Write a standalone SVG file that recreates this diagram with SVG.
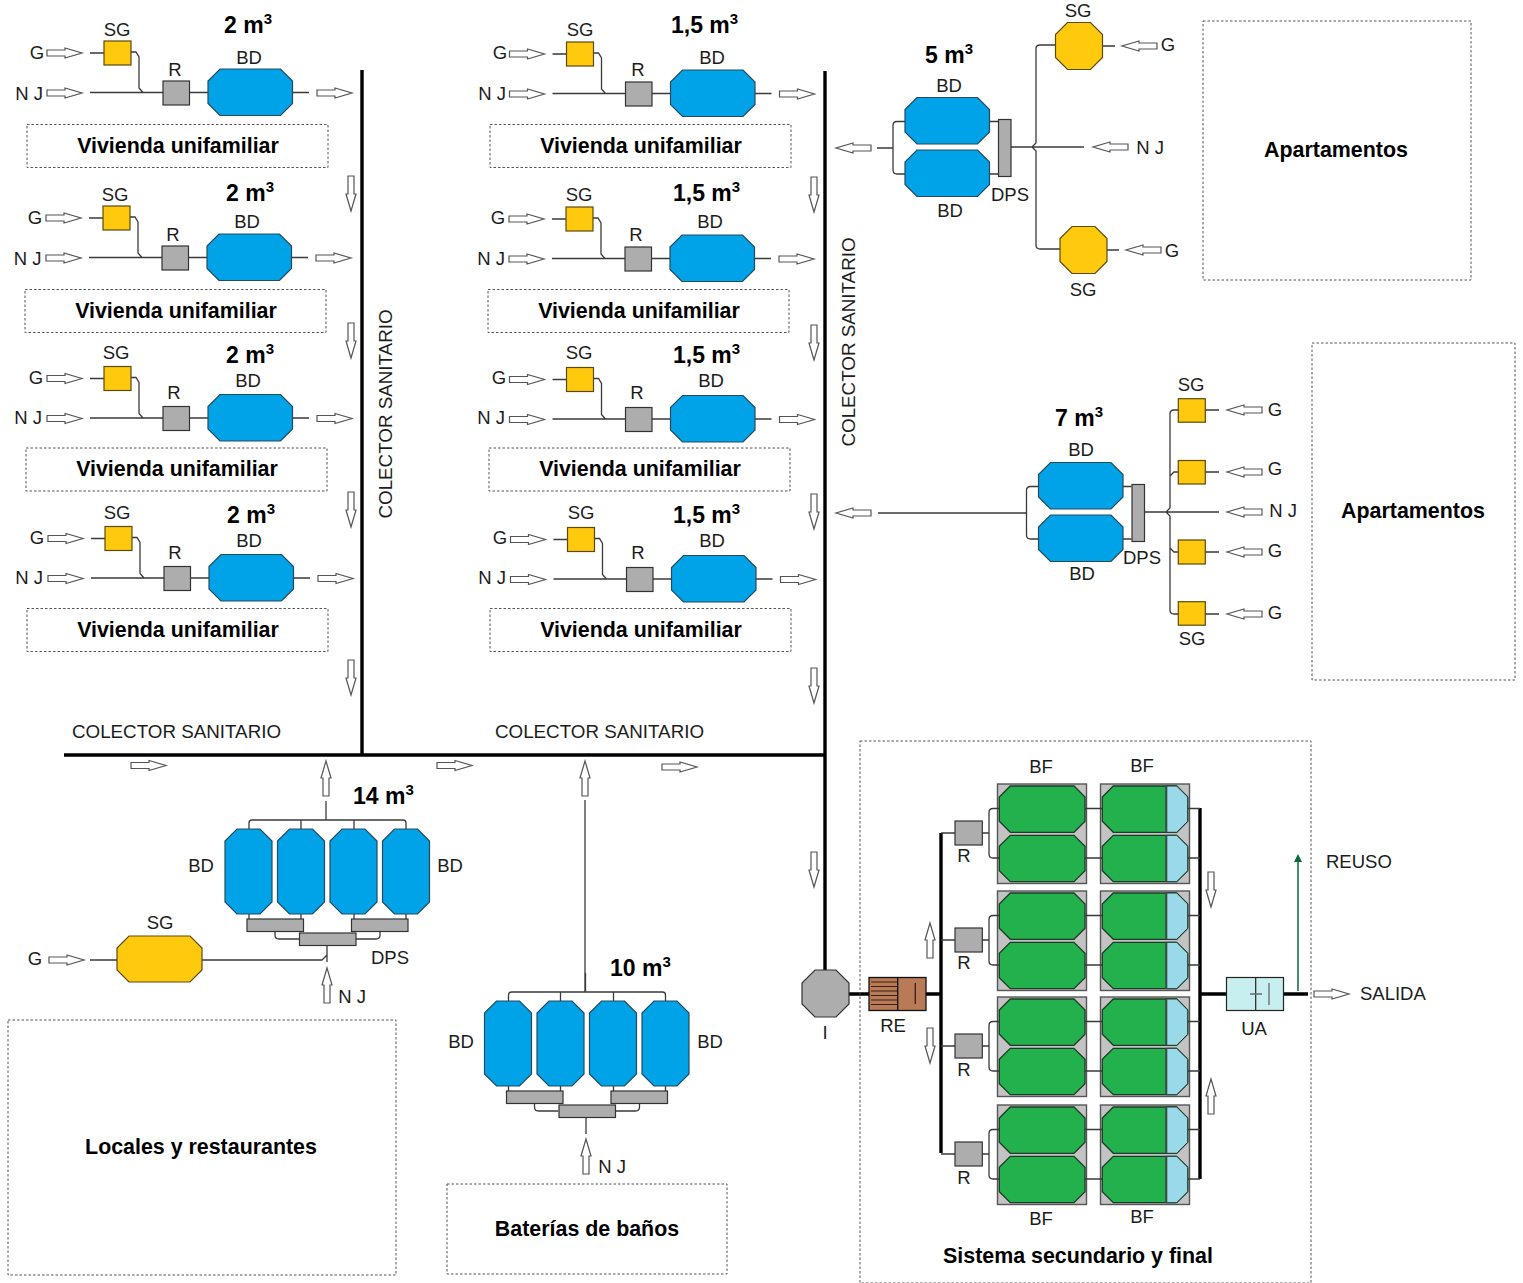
<svg xmlns="http://www.w3.org/2000/svg" width="1523" height="1283" viewBox="0 0 1523 1283">
<style>
text{font-family:"Liberation Sans",Arial,sans-serif;font-size:18.500px;fill:#1c1c1c;text-anchor:middle}
.b{font-weight:bold;font-size:21.400px;fill:#000}
.t{font-weight:bold;font-size:23px;fill:#000;text-anchor:start}
.s{text-anchor:start}
.cs{font-size:18.800px}
.sup{font-size:15px}
.ar{fill:#fff;stroke:#555;stroke-width:1.200}
.l{fill:none;stroke:#3a3a3a;stroke-width:1.300}
.bus{fill:none;stroke:#000;stroke-width:3.400}
.box{fill:none;stroke:#555;stroke-width:1;stroke-dasharray:2.500 2}
.sg{fill:#ffc90e;stroke:#5a4a10;stroke-width:1.200}
.gr{fill:#adadad;stroke:#333;stroke-width:1.200}
.bd{fill:#00a2e8;stroke:#274a5c;stroke-width:1.200}
.pan{fill:#c3c3c3;stroke:#555;stroke-width:1.400}
.bf{fill:#22b14c;stroke:#1f3a28;stroke-width:1.300}
.bl{fill:#99d9ea;stroke:#1f3a28;stroke-width:1}
.re{fill:#b97a57;stroke:#111;stroke-width:1.300}
.ua{fill:#c8eff0;stroke:#222;stroke-width:1.200}
</style>
<defs>
<polygon id="ar" class="ar" points="0,-3 18,-3 18,-5 35,0 18,5 18,3 0,3"/>
<polygon id="bdh" class="bd" points="12,0 72.500,0 84.500,12 84.500,34.500 72.500,46.500 12,46.500 0,34.500 0,12"/>
<polygon id="bdv" class="bd" points="12,0 35,0 47,12 47,73 35,85 12,85 0,73 0,12"/>
<polygon id="oct" class="sg" points="12,0 35,0 47,12 47,35 35,47 12,47 0,35 0,12"/>
<g id="unit">
<path class="l" d="M90,53H104M131,52H136L139,57V88L143,92.500M90,92.500H163M189,92.500H208M292,92.500H309"/>
<use href="#ar" x="47" y="53"/>
<use href="#ar" x="47" y="93"/>
<use href="#ar" x="317" y="93"/>
<rect class="sg" x="104" y="41" width="27" height="24"/>
<rect class="gr" x="163" y="81" width="26.500" height="24"/>
<use href="#bdh" x="208" y="69"/>
</g>
<g id="tank4">
<path class="l" d="M249,829V823Q249,820 252,820H403Q406,820 406,823V829M301,820V829M354,820V829M326,801V820M249,913V919M301,913V919M354,913V919M406,913V919M275,932V935Q275,939 279,939H299M380,932V935Q380,939 376,939H356"/>
<use href="#bdv" x="225" y="829"/>
<use href="#bdv" x="277.500" y="829"/>
<use href="#bdv" x="330" y="829"/>
<use href="#bdv" x="382.500" y="829"/>
<rect class="gr" x="247" y="919" width="56.500" height="12.500"/>
<rect class="gr" x="351.500" y="919" width="56.500" height="12.500"/>
<rect class="gr" x="299.500" y="933" width="56.500" height="12.500"/>
</g>
<g id="twin">
<path class="l" d="M905,121.500H897Q893,121.500 893,125.500V170Q893,174 897,174H905M989,121.500H998M989,174H998"/>
<use href="#bdh" x="905" y="97.500"/>
<use href="#bdh" x="905" y="150"/>
<rect class="gr" x="998.500" y="119.500" width="12.500" height="57"/>
</g>
<g id="bfrow">
<rect class="pan" x="997.500" y="784" width="89" height="99.500"/>
<rect class="pan" x="1100.500" y="784" width="89" height="99.500"/>
<polygon class="bf" points="1010.300,786 1074,786 1085,797 1085,821.300 1074,832.300 1010.300,832.300 999.300,821.300 999.300,797"/>
<polygon class="bf" points="1010.300,835.300 1074,835.300 1085,846.300 1085,870.700 1074,881.700 1010.300,881.700 999.300,870.700 999.300,846.300"/>
<polygon class="bf" points="1113.300,786 1176.700,786 1187.700,797 1187.700,821.300 1176.700,832.300 1113.300,832.300 1102.300,821.300 1102.300,797"/>
<polygon class="bf" points="1113.300,835.300 1176.700,835.300 1187.700,846.300 1187.700,870.700 1176.700,881.700 1113.300,881.700 1102.300,870.700 1102.300,846.300"/>
<polygon class="bl" points="1166.300,786 1176.700,786 1187.700,797 1187.700,821.300 1176.700,832.300 1166.300,832.300"/>
<polygon class="bl" points="1166.300,835.300 1176.700,835.300 1187.700,846.300 1187.700,870.700 1176.700,881.700 1166.300,881.700"/>
<path d="M1166.300,786V832.300M1166.300,835.300V881.700" fill="none" stroke="#3a4a44" stroke-width="2"/>
<path class="l" d="M941,833H955M982,833H989M999,808.500H993Q989,808.500 989,812.500V854Q989,858 993,858H999M1085,808.500H1102M1085,858H1102M1188,808.500H1200M1188,858H1200"/>
<rect class="gr" x="955" y="821" width="27.300" height="24"/>
</g>
</defs>

<g id="connectors">
<path class="bus" d="M362,70V755M825,71V972M64,755H825"/>
<path class="bus" d="M849,994H869M926,994H941M941,833V1153M1200,808V1179M1200,994H1226M1283,994H1308"/>
<use href="#ar" transform="translate(351,176) rotate(90)"/>
<use href="#ar" transform="translate(351,323) rotate(90)"/>
<use href="#ar" transform="translate(351,492) rotate(90)"/>
<use href="#ar" transform="translate(351,660) rotate(90)"/>
<use href="#ar" transform="translate(814,177) rotate(90)"/>
<use href="#ar" transform="translate(814,325) rotate(90)"/>
<use href="#ar" transform="translate(814,494) rotate(90)"/>
<use href="#ar" transform="translate(814,668) rotate(90)"/>
<use href="#ar" transform="translate(814,852) rotate(90)"/>
<use href="#ar" x="131" y="765.500"/>
<use href="#ar" x="437" y="765.500"/>
<use href="#ar" x="662" y="767"/>
<use href="#ar" transform="translate(326,796) rotate(-90)"/>
<use href="#ar" transform="translate(585,796) rotate(-90)"/>
<use href="#ar" transform="translate(930,958) rotate(-90)"/>
<use href="#ar" transform="translate(930,1028) rotate(90)"/>
<use href="#ar" transform="translate(1211,872) rotate(90)"/>
<use href="#ar" transform="translate(1211,1114) rotate(-90)"/>
<use href="#ar" x="1314" y="994"/>
<path d="M1298,991V860" fill="none" stroke="#0b6b3a" stroke-width="1.500"/>
<polygon points="1298,854 1302,862 1294,862" fill="#0b6b3a"/>
<path class="l" d="M585,800V992M586,1117V1134"/>
<path class="l" d="M90,960H117M202,960H322L327,955M327,945V962"/>
<use href="#ar" x="49" y="960"/>
<use href="#ar" transform="translate(327,1003) rotate(-90)"/>
<use href="#ar" transform="translate(586,1174) rotate(-90)"/>
<path class="l" d="M877,148H893M1011,147H1084M1055,45H1040Q1036,45 1036,49V143L1032,147L1036,151V245Q1036,249 1040,249H1060M1103,46H1115M1107,250H1119"/>
<use href="#ar" transform="translate(871,148) rotate(180)"/>
<use href="#ar" transform="translate(1157,46) rotate(180)"/>
<use href="#ar" transform="translate(1161,250) rotate(180)"/>
<use href="#ar" transform="translate(1128,147) rotate(180)"/>
<path class="l" d="M878,513H1027M1144,512H1219M1178,410H1174Q1170,410 1170,414V508L1166,512L1170,516V610Q1170,614 1174,614H1178M1170,476L1174,472H1178M1170,548L1174,552H1178M1205,410H1219M1205,472H1219M1205,552H1219M1205,614H1219"/>
<use href="#ar" transform="translate(871,513) rotate(180)"/>
<use href="#ar" transform="translate(1262,410) rotate(180)"/>
<use href="#ar" transform="translate(1262,472) rotate(180)"/>
<use href="#ar" transform="translate(1262,512) rotate(180)"/>
<use href="#ar" transform="translate(1262,552) rotate(180)"/>
<use href="#ar" transform="translate(1262,614) rotate(180)"/>
</g>

<g id="colector-labels">
<text class="cs" transform="translate(392,414) rotate(-90)">COLECTOR SANITARIO</text>
<text class="cs" transform="translate(855,342) rotate(-90)">COLECTOR SANITARIO</text>
<text class="cs" x="176.500" y="738">COLECTOR SANITARIO</text>
<text class="cs" x="599.500" y="738">COLECTOR SANITARIO</text>
</g>

<g id="vivienda-1-1">
<use href="#unit"/>
<rect class="box" x="27" y="124.500" width="301" height="43"/>
<text x="37" y="59">G</text><text x="29" y="100">N J</text><text x="117" y="36">SG</text><text x="175" y="76">R</text><text x="249" y="64">BD</text>
<text class="t" x="224" y="33">2 m<tspan class="sup" dy="-9">3</tspan></text>
<text class="b" x="178" y="153">Vivienda unifamiliar</text>
</g>
<g id="vivienda-1-2">
<use href="#unit" transform="translate(-1,165)"/>
<rect class="box" x="25" y="289.500" width="301" height="43"/>
<text x="35" y="224">G</text><text x="27.500" y="265">N J</text><text x="115" y="201">SG</text><text x="173" y="241">R</text><text x="247" y="228">BD</text>
<text class="t" x="226" y="201">2 m<tspan class="sup" dy="-9">3</tspan></text>
<text class="b" x="176" y="318">Vivienda unifamiliar</text>
</g>
<g id="vivienda-1-3">
<use href="#unit" transform="translate(0,325.500)"/>
<rect class="box" x="26" y="448" width="301" height="43"/>
<text x="36" y="384">G</text><text x="28" y="424">N J</text><text x="116" y="359">SG</text><text x="174" y="399">R</text><text x="248" y="387">BD</text>
<text class="t" x="226" y="363">2 m<tspan class="sup" dy="-9">3</tspan></text>
<text class="b" x="177" y="476">Vivienda unifamiliar</text>
</g>
<g id="vivienda-1-4">
<use href="#unit" transform="translate(1,485.500)"/>
<rect class="box" x="27" y="608.500" width="301" height="43"/>
<text x="37" y="544">G</text><text x="29" y="584">N J</text><text x="117" y="519">SG</text><text x="175" y="559">R</text><text x="249" y="546.500">BD</text>
<text class="t" x="227" y="523">2 m<tspan class="sup" dy="-9">3</tspan></text>
<text class="b" x="178" y="637">Vivienda unifamiliar</text>
</g>
<g id="vivienda-2-1">
<use href="#unit" transform="translate(462.500,1)"/>
<rect class="box" x="490" y="124.500" width="301" height="43"/>
<text x="500" y="59">G</text><text x="492" y="100">N J</text><text x="580" y="36">SG</text><text x="638" y="76">R</text><text x="712" y="64">BD</text>
<text class="t" x="671" y="33">1,5 m<tspan class="sup" dy="-9">3</tspan></text>
<text class="b" x="641" y="153">Vivienda unifamiliar</text>
</g>
<g id="vivienda-2-2">
<use href="#unit" transform="translate(462,166)"/>
<rect class="box" x="488" y="289.500" width="301" height="43"/>
<text x="498" y="224">G</text><text x="491" y="265">N J</text><text x="579" y="201">SG</text><text x="636" y="241">R</text><text x="710" y="228">BD</text>
<text class="t" x="673" y="201">1,5 m<tspan class="sup" dy="-9">3</tspan></text>
<text class="b" x="639" y="318">Vivienda unifamiliar</text>
</g>
<g id="vivienda-2-3">
<use href="#unit" transform="translate(462.500,326.500)"/>
<rect class="box" x="489" y="448" width="301" height="43"/>
<text x="499" y="384">G</text><text x="491" y="424">N J</text><text x="579" y="359">SG</text><text x="637" y="399">R</text><text x="711" y="387">BD</text>
<text class="t" x="673" y="363">1,5 m<tspan class="sup" dy="-9">3</tspan></text>
<text class="b" x="640" y="476">Vivienda unifamiliar</text>
</g>
<g id="vivienda-2-4">
<use href="#unit" transform="translate(463.500,486.500)"/>
<rect class="box" x="490" y="608.500" width="301" height="43"/>
<text x="500" y="544">G</text><text x="492" y="584">N J</text><text x="581" y="519">SG</text><text x="638" y="559">R</text><text x="712" y="546.500">BD</text>
<text class="t" x="673" y="523">1,5 m<tspan class="sup" dy="-9">3</tspan></text>
<text class="b" x="641" y="637">Vivienda unifamiliar</text>
</g>

<g id="apartamentos-5">
<use href="#twin"/>
<use href="#oct" x="1055.500" y="22.500"/>
<use href="#oct" x="1060" y="226.500"/>
<text class="t" x="925" y="63">5 m<tspan class="sup" dy="-9">3</tspan></text>
<text x="949" y="92">BD</text><text x="950" y="217">BD</text><text x="1010" y="200.500">DPS</text>
<text x="1078" y="17">SG</text><text x="1083" y="296">SG</text>
<text x="1168" y="51">G</text><text x="1172" y="257">G</text><text x="1150" y="154">N J</text>
<rect class="box" x="1203" y="21" width="268" height="259"/>
<text class="b" x="1336" y="157">Apartamentos</text>
</g>
<g id="apartamentos-7">
<use href="#twin" transform="translate(133.500,365)"/>
<rect class="sg" x="1178.300" y="398.700" width="27" height="23.500"/>
<rect class="sg" x="1178.300" y="460.500" width="27" height="23.500"/>
<rect class="sg" x="1178.300" y="540" width="27" height="24"/>
<rect class="sg" x="1178.300" y="601.700" width="27" height="23.500"/>
<text class="t" x="1055" y="426">7 m<tspan class="sup" dy="-9">3</tspan></text>
<text x="1081" y="456">BD</text><text x="1082" y="580">BD</text><text x="1142" y="564">DPS</text>
<text x="1191" y="391">SG</text><text x="1192" y="645">SG</text>
<text x="1275" y="416">G</text><text x="1275" y="475">G</text><text x="1283" y="517">N J</text><text x="1275" y="557">G</text><text x="1275" y="619">G</text>
<rect class="box" x="1312" y="343" width="203" height="337"/>
<text class="b" x="1413" y="518">Apartamentos</text>
</g>

<g id="locales">
<use href="#tank4"/>
<polygon class="sg" points="129,936 190,936 202,948 202,970 190,982 129,982 117,970 117,948"/>
<text class="t" x="353" y="804">14 m<tspan class="sup" dy="-9">3</tspan></text>
<text x="201" y="872">BD</text><text x="450" y="872">BD</text><text x="160" y="928.500">SG</text><text x="390" y="963.500">DPS</text>
<text x="35" y="965">G</text><text x="352" y="1002.500">N J</text>
<rect class="box" x="8" y="1020" width="388" height="255"/>
<text class="b" x="201" y="1154">Locales y restaurantes</text>
</g>
<g id="banos">
<use href="#tank4" transform="translate(259.500,172)"/>
<text class="t" x="610" y="976">10 m<tspan class="sup" dy="-9">3</tspan></text>
<text x="461" y="1048">BD</text><text x="710" y="1048">BD</text><text x="612" y="1173">N J</text>
<rect class="box" x="447" y="1184" width="280" height="90"/>
<text class="b" x="587" y="1236">Baterías de baños</text>
</g>

<g id="interceptor">
<polygon class="gr" points="815,970 836,970 849,983 849,1004 836,1017 815,1017 802,1004 802,983"/>
<text x="825" y="1039">I</text>
</g>
<g id="re">
<rect class="re" x="869" y="977.500" width="57" height="33"/>
<path d="M897.700,977.500V1010.500" stroke="#111" stroke-width="1.300" fill="none"/>
<path d="M871,982H897M871,986.500H897M871,991H897M871,995.500H897M871,1000H897M871,1004.500H897" stroke="#3a2010" stroke-width="1.200" fill="none"/>
<path d="M915.300,983V1004" stroke="#3a2010" stroke-width="1.300" fill="none"/>
<text x="893" y="1032">RE</text>
</g>
<g id="sistema">
<rect class="box" x="860" y="741" width="451" height="542"/>
<g id="bf-row-1"><use href="#bfrow"/><text x="964" y="862">R</text></g>
<g id="bf-row-2"><use href="#bfrow" transform="translate(0,107)"/><text x="964" y="969">R</text></g>
<g id="bf-row-3"><use href="#bfrow" transform="translate(0,213)"/><text x="964" y="1076">R</text></g>
<g id="bf-row-4"><use href="#bfrow" transform="translate(0,321)"/><text x="964" y="1184">R</text></g>
<text x="1041" y="773">BF</text><text x="1142" y="772">BF</text><text x="1041" y="1225">BF</text><text x="1142" y="1223">BF</text>
<text class="b" x="1078" y="1263">Sistema secundario y final</text>
</g>
<g id="ua">
<rect class="ua" x="1226.500" y="977.500" width="57" height="33"/>
<path d="M1255.700,977.500V1010.500" stroke="#222" stroke-width="1.200" fill="none"/>
<path d="M1250,994H1262M1269,983V1005" stroke="#667" stroke-width="1.300" fill="none"/>
<text x="1254" y="1035">UA</text>
</g>
<g id="salidas">
<text class="s" x="1326" y="868">REUSO</text>
<text class="s" x="1360" y="1000">SALIDA</text>
</g>
</svg>
